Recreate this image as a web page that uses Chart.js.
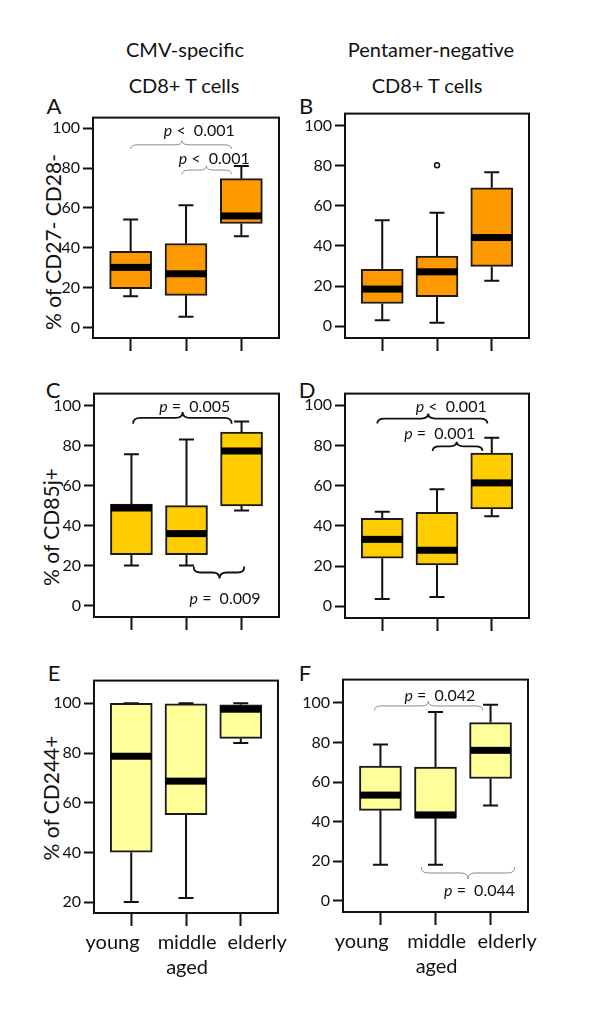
<!DOCTYPE html>
<html><head><meta charset="utf-8">
<script src="https://cdn.jsdelivr.net/npm/chart.js@4.4.0/dist/chart.umd.min.js"></script>
<style>
html,body{margin:0;padding:0;background:#fff;}
body{width:600px;height:1023px;position:relative;overflow:hidden;font-family:Lato,"Open Sans",sans-serif;color:#111;}
canvas{position:absolute;}
.t{position:absolute;transform:translate(-50%,-50%);white-space:nowrap;line-height:1;}
.col{font-size:20px;}
.let{font-size:22px;}
.yt{font-size:21px;transform:translate(-50%,-50%) rotate(-90deg);}
</style></head><body>
<div class="t col" style="left:185px;top:49px">CMV-specific</div>
<div class="t col" style="left:184px;top:85px">CD8+ T cells</div>
<div class="t col" style="left:431px;top:49px">Pentamer-negative</div>
<div class="t col" style="left:427px;top:85px">CD8+ T cells</div>
<div class="t let" style="left:54px;top:106px">A</div>
<div class="t let" style="left:306px;top:106px">B</div>
<div class="t let" style="left:53px;top:390px">C</div>
<div class="t let" style="left:307px;top:390px">D</div>
<div class="t let" style="left:54px;top:673px">E</div>
<div class="t let" style="left:305px;top:673px">F</div>
<div class="t yt" style="left:52px;top:242px">% of CD27- CD28-</div>
<div class="t yt" style="left:50px;top:527px">% of CD85j+</div>
<div class="t yt" style="left:50px;top:798px">% of CD244+</div>
<script>
// ---- categories & ticks ----
const groups = ['young', 'middle', 'elderly'];
const groupsLine2 = ['', 'aged', ''];
const xTickValues = [1, 2, 3];
const yTicksMain = [0, 20, 40, 60, 80, 100];
const yTicksE = [20, 40, 60, 80, 100];

// ---- A: CMV-specific, % CD27- CD28- ----
const aLow  = [15.7, 5.5, 45.8];
const aQ1   = [19.5, 16.2, 52.2];
const aMed  = [30.2, 27.0, 56.0];
const aQ3   = [38.2, 42.2, 74.7];
const aHigh = [54.2, 61.3, 81.0];

// ---- B: Pentamer-negative, % CD27- CD28- ----
const bLow  = [2.9, 1.7, 22.6];
const bQ1   = [11.3, 14.7, 29.8];
const bMed  = [18.5, 27.1, 44.2];
const bQ3   = [28.3, 35.0, 69.0];
const bHigh = [52.8, 56.6, 76.7];
const bOutlierX = [2];
const bOutlierY = [80.3];

// ---- C: CMV-specific, % CD85j+ ----
const cLow  = [20.2, 20.2, 47.7];
const cQ1   = [25.6, 25.6, 49.9];
const cMed  = [48.9, 36.1, 77.4];
const cQ3   = [50.8, 50.1, 86.9];
const cHigh = [75.8, 83.2, 92.1];

// ---- D: Pentamer-negative, % CD85j+ ----
const dLow  = [3.6, 4.7, 44.8];
const dQ1   = [23.9, 20.6, 48.5];
const dMed  = [33.3, 27.9, 61.4];
const dQ3   = [43.8, 46.7, 76.2];
const dHigh = [47.0, 58.2, 83.8];

// ---- E: CMV-specific, % CD244+ ----
const eLow  = [20.1, 21.7, 84.0];
const eQ1   = [40.1, 55.2, 85.9];
const eMed  = [78.7, 68.7, 97.6];
const eQ3   = [100, 99.8, 99.4];
const eHigh = [100, 100, 100];

// ---- F: Pentamer-negative, % CD244+ ----
const fLow  = [18.2, 18.2, 48.2];
const fQ1   = [45.7, 41.7, 61.8];
const fMed  = [53.4, 43.4, 76.0];
const fQ3   = [68.0, 67.6, 90.0];
const fHigh = [78.9, 95.3, 99.0];

// ---- p-value annotations (data units) ----
const notesA = [
  {from:1.0, to:2.82, tip:1.93, yEnd:89.6, yTip:93.7, tx:2.24, ty:98.6, text:' <  0.001'},
  {from:1.93, to:2.82, tip:2.37, yEnd:77.0, yTip:81.0, tx:2.51, ty:84.5, text:' <  0.001'}
];
const notesC = [
  {from:1.03, to:2.82, tip:1.93, yEnd:91.0, yTip:96.9, tx:2.15, ty:99.4, text:' =  0.005'},
  {from:2.13, to:3.05, tip:2.6, yEnd:19.7, yTip:13.6, tx:2.7, ty:3.6, text:' =  0.009'}
];
const notesD = [
  {from:0.91, to:2.92, tip:1.84, yEnd:90.9, yTip:95.9, tx:2.26, ty:99.2, text:' <  0.001'},
  {from:1.92, to:2.83, tip:2.36, yEnd:77.3, yTip:81.8, tx:2.05, ty:85.6, text:' =  0.001'}
];
const notesF = [
  {from:0.89, to:2.86, tip:1.87, yEnd:96.1, yTip:100.7, tx:2.08, ty:103.7, text:' =  0.042'},
  {from:1.74, to:3.44, tip:2.59, yEnd:17.1, yTip:11.1, tx:2.8, ty:5.2, text:' =  0.044'}
];
const xLabelOffsets = [-0.34, 0.02, 0.3];

const ORANGE = '#FF9900', GOLD = '#FFCC00', PALE = '#FFFF99';

const panels = [
  {id:'A', frame:[93,117,279,338], yMin:-5.2, yMax:105.3, yTicks:yTicksMain, fill:ORANGE,
   low:aLow, q1:aQ1, med:aMed, q3:aQ3, high:aHigh, outX:[], outY:[], notes:notesA, braceColor:'#8a8a8a', braceWidth:1, xLabels:false},
  {id:'B', frame:[345,113,529,338], yMin:-5.9, yMax:106, yTicks:yTicksMain, fill:ORANGE,
   low:bLow, q1:bQ1, med:bMed, q3:bQ3, high:bHigh, outX:bOutlierX, outY:bOutlierY, notes:[], xLabels:false},
  {id:'C', frame:[94,393,279,617], yMin:-5.6, yMax:106.1, yTicks:yTicksMain, fill:GOLD,
   low:cLow, q1:cQ1, med:cMed, q3:cQ3, high:cHigh, outX:[], outY:[], notes:notesC, braceColor:'#111', braceWidth:1.8, xLabels:false},
  {id:'D', frame:[345,393,529,618], yMin:-5.8, yMax:105.8, yTicks:yTicksMain, fill:GOLD,
   low:dLow, q1:dQ1, med:dMed, q3:dQ3, high:dHigh, outX:[], outY:[], notes:notesD, braceColor:'#111', braceWidth:1.8, xLabels:false},
  {id:'E', frame:[94,680,278,913], yMin:15.7, yMax:109.1, yTicks:yTicksE, fill:PALE,
   low:eLow, q1:eQ1, med:eMed, q3:eQ3, high:eHigh, outX:[], outY:[], notes:[], xLabels:true},
  {id:'F', frame:[343,679,528,912], yMin:-5.6, yMax:111.7, yTicks:yTicksMain, fill:PALE,
   low:fLow, q1:fQ1, med:fMed, q3:fQ3, high:fHigh, outX:[], outY:[], notes:notesF, braceColor:'#8a8a8a', braceWidth:1, xLabels:true}
];

const FONT = 'Lato, "Open Sans", sans-serif';

function drawBrace(ctx, x1, x2, xm, yE, yT){
  const yM = (yE + yT) / 2;
  const r = 7;
  ctx.beginPath();
  ctx.moveTo(x1, yE);
  ctx.quadraticCurveTo(x1, yM, x1 + r, yM);
  ctx.lineTo(xm - r, yM);
  ctx.quadraticCurveTo(xm, yM, xm, yT);
  ctx.quadraticCurveTo(xm, yM, xm + r, yM);
  ctx.lineTo(x2 - r, yM);
  ctx.quadraticCurveTo(x2, yM, x2, yE);
  ctx.stroke();
}

function drawP(ctx, cx, cy, rest){
  ctx.font = 'italic 16px ' + FONT;
  const w1 = ctx.measureText('p').width;
  ctx.font = '16px ' + FONT;
  const w2 = ctx.measureText(rest).width;
  const x0 = cx - (w1 + w2) / 2;
  ctx.textAlign = 'left';
  ctx.textBaseline = 'middle';
  ctx.fillStyle = '#111';
  ctx.font = 'italic 16px ' + FONT;
  ctx.fillText('p', x0, cy);
  ctx.font = '16px ' + FONT;
  ctx.fillText(rest, x0 + w1, cy);
}

function boxPlugin(p){
  return {
    id: 'box' + p.id,
    beforeDatasetsDraw(chart){
      const ctx = chart.ctx, xs = chart.scales.x, ys = chart.scales.y;
      ctx.save();
      ctx.strokeStyle = '#111';
      ctx.lineWidth = 2;
      groups.forEach((g, i) => {
        const x = xs.getPixelForValue(xTickValues[i]);
        const yq1 = ys.getPixelForValue(p.q1[i]), yq3 = ys.getPixelForValue(p.q3[i]);
        const yl = ys.getPixelForValue(p.low[i]), yh = ys.getPixelForValue(p.high[i]);
        ctx.beginPath();
        ctx.moveTo(x, yq3); ctx.lineTo(x, yh);
        ctx.moveTo(x - 7.5, yh); ctx.lineTo(x + 7.5, yh);
        ctx.moveTo(x, yq1); ctx.lineTo(x, yl);
        ctx.moveTo(x - 7.5, yl); ctx.lineTo(x + 7.5, yl);
        ctx.stroke();
      });
      ctx.restore();
    },
    afterDatasetsDraw(chart){
      const ctx = chart.ctx, xs = chart.scales.x, ys = chart.scales.y;
      ctx.save();
      ctx.fillStyle = '#000';
      groups.forEach((g, i) => {
        const x = xs.getPixelForValue(xTickValues[i]);
        const ym = ys.getPixelForValue(p.med[i]);
        ctx.fillRect(x - 20.5, ym - 3.5, 41, 7);
      });
      ctx.restore();
    },
    afterDraw(chart){
      const ctx = chart.ctx, xs = chart.scales.x, ys = chart.scales.y, a = chart.chartArea;
      ctx.save();
      ctx.strokeStyle = '#111';
      ctx.lineWidth = 2;
      ctx.strokeRect(a.left, a.top, a.right - a.left, a.bottom - a.top);
      (p.notes || []).forEach(n => {
        ctx.strokeStyle = p.braceColor;
        ctx.lineWidth = p.braceWidth;
        drawBrace(ctx, xs.getPixelForValue(n.from), xs.getPixelForValue(n.to), xs.getPixelForValue(n.tip),
                  ys.getPixelForValue(n.yEnd), ys.getPixelForValue(n.yTip));
        drawP(ctx, xs.getPixelForValue(n.tx), ys.getPixelForValue(n.ty), n.text);
      });
      if (p.xLabels){
        ctx.fillStyle = '#111';
        ctx.font = '20px ' + FONT;
        ctx.textAlign = 'center';
        ctx.textBaseline = 'alphabetic';
        groups.forEach((g, i) => {
          const x = xs.getPixelForValue(xTickValues[i] + xLabelOffsets[i]);
          ctx.fillText(g, x, a.bottom + 35.5);
          if (groupsLine2[i]) ctx.fillText(groupsLine2[i], x, a.bottom + 60.5);
        });
      }
      ctx.restore();
    }
  };
}

function makePanel(p){
  const PAD_L = 60, PAD_T = 12, PAD_R = 15, AX_H = p.xLabels ? 75 : 20;
  const [l, t, r, b] = p.frame;
  const W = (r - l) + PAD_L + PAD_R, H = (b - t) + PAD_T + AX_H;
  const cv = document.createElement('canvas');
  cv.width = W; cv.height = H;
  cv.style.left = (l - PAD_L) + 'px'; cv.style.top = (t - PAD_T) + 'px';
  cv.style.width = W + 'px'; cv.style.height = H + 'px';
  document.body.appendChild(cv);
  const datasets = [{
    type: 'bar',
    data: groups.map((g, i) => ({x: xTickValues[i], y: [p.q1[i], p.q3[i]]})),
    backgroundColor: p.fill, borderColor: '#1a1a1a', borderWidth: 2, borderSkipped: false,
    barThickness: 42, grouped: false
  }];
  if (p.outX.length){
    datasets.push({
      type: 'scatter',
      data: p.outX.map((x, i) => ({x: x, y: p.outY[i]})),
      pointRadius: 2.5, pointBorderWidth: 1.5, pointBorderColor: '#111', pointBackgroundColor: '#fff'
    });
  }
  new Chart(cv, {
    type: 'bar',
    data: {datasets},
    options: {
      responsive: false, animation: false, devicePixelRatio: 1,
      layout: {padding: {left: 0, top: PAD_T, right: PAD_R, bottom: 0}},
      plugins: {legend: {display: false}, tooltip: {enabled: false}},
      scales: {
        x: {
          type: 'linear', min: 0.32, max: 3.68, offset: false,
          afterBuildTicks: s => { s.ticks = xTickValues.map(v => ({value: v})); },
          afterFit: s => { s.height = AX_H; },
          ticks: {display: false},
          grid: {offset: false, drawOnChartArea: false, drawTicks: true, tickLength: 13, tickWidth: 2, tickColor: '#111', color: '#111'},
          border: {display: false}
        },
        y: {
          type: 'linear', min: p.yMin, max: p.yMax,
          afterBuildTicks: s => { s.ticks = p.yTicks.map(v => ({value: v})); },
          afterFit: s => { s.width = PAD_L; },
          ticks: {color: '#111', font: {family: FONT, size: 16}, padding: 3, callback: v => String(v)},
          grid: {drawOnChartArea: false, drawTicks: true, tickLength: 10, tickWidth: 2, tickColor: '#111', color: '#111'},
          border: {display: false}
        }
      }
    },
    plugins: [boxPlugin(p)]
  });
}

panels.forEach(makePanel);
</script>
</body></html>
